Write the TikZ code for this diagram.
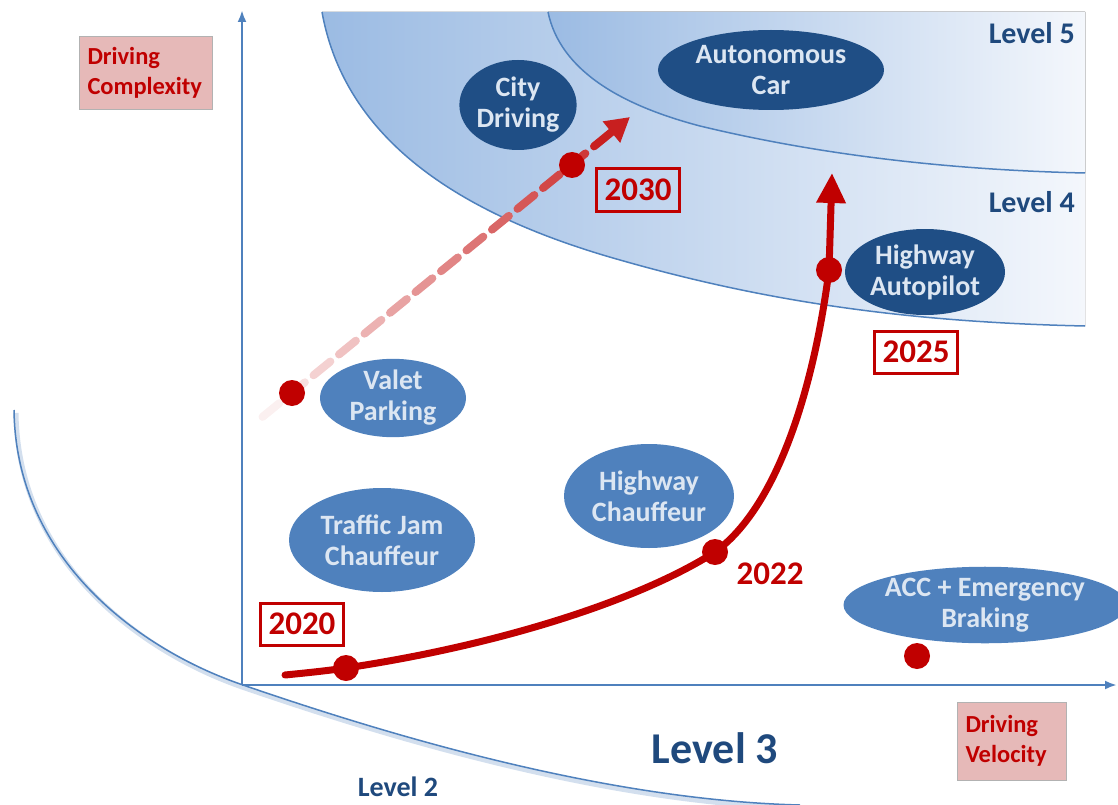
\documentclass[tikz,border=0pt]{standalone}
\usepackage{fontspec}
\setmainfont{Carlito}
\usetikzlibrary{shapes.geometric,arrows.meta,calc}

\definecolor{redc}{HTML}{C00000}
\definecolor{spotdark}{HTML}{1F4E85}
\definecolor{spotmid}{HTML}{4F81BD}
\definecolor{spottext}{HTML}{DCE6F2}
\definecolor{levelblue}{HTML}{1F497D}
\definecolor{axisblue}{HTML}{4F81BD}
\definecolor{pinkbox}{HTML}{E6B9B8}
\definecolor{bandblue}{HTML}{9BBBE3}
\definecolor{bandmid}{HTML}{D3E1F2}
\definecolor{bandwhite}{HTML}{F4F7FC}

\begin{document}
\begin{tikzpicture}[
    x=1pt, y=-1pt,
    spot/.style={
        ellipse,
        inner sep=0pt,
        align=center,
        text=spottext,
        font=\fontsize{28}{31}\selectfont\bfseries
    },
    darkspot/.style={spot, fill=spotdark},
    lightspot/.style={spot, fill=spotmid},
    reddot/.style={
        circle,
        fill=redc,
        minimum size=26pt,
        inner sep=0pt
    },
    yearbox/.style={
        draw=redc,
        line width=3pt,
        text=redc,
        font=\fontsize{33}{36}\selectfont\bfseries,
        minimum width=83pt,
        minimum height=42pt,
        inner sep=0pt
    },
    axisbox/.style={
        fill=pinkbox,
        draw=gray!60,
        line width=0.8pt,
        text=redc,
        align=left,
        font=\fontsize{24.5}{30}\selectfont\bfseries,
        inner sep=0pt
    },
    level/.style={
        text=levelblue,
        font=\fontsize{30}{32}\selectfont\bfseries,
        inner sep=0pt
    },
    axis/.style={
        line width=2.5pt,
        draw=axisblue,
        -{Latex[length=12pt,width=9pt]}
    },
    boundary/.style={draw=axisblue, line width=1.5pt},
    band/.style={left color=bandblue, middle color=bandmid, right color=bandwhite},
    trend/.style={line width=7pt, draw=redc, line cap=round},
    fadedash/.style={line width=8pt, line cap=round}
]

    \useasboundingbox (0,0) rectangle (1118,805);

    % level 4 and level 5 zones
    \fill[band] (322,12) .. controls (345,140) and (460,215) .. (620,260)
        .. controls (760,300) and (900,322) .. (1085,326) -- (1085,12) -- cycle;
    \fill[band] (548,12) .. controls (560,70) and (620,105) .. (700,126)
        .. controls (820,155) and (950,170) .. (1085,173) -- (1085,12) -- cycle;
    \draw[boundary] (322,12) .. controls (345,140) and (460,215) .. (620,260)
        .. controls (760,300) and (900,322) .. (1085,326);
    \draw[boundary] (548,12) .. controls (560,70) and (620,105) .. (700,126)
        .. controls (820,155) and (950,170) .. (1085,173);

    % level 2 curve
    \draw[line width=5pt, draw=axisblue!25, transform canvas={shift={(2pt,-3pt)}}]
        (14,410) .. controls (16,560) and (140,650) .. (243,685)
        .. controls (380,732) and (600,800) .. (800,805);
    \draw[boundary] (14,410) .. controls (16,560) and (140,650) .. (243,685)
        .. controls (380,732) and (600,800) .. (800,805);

    % axes
    \coordinate (origin) at (242,685);
    \coordinate (ytop) at (242,10);
    \coordinate (xend) at (1117,685);
    \draw[axis] (origin) -- (ytop);
    \draw[axis] (origin) -- (xend);

    \node[axisbox, minimum width=133pt, minimum height=73pt, text width=117pt] (complexity) at (146,73) {Driving\\Complexity};
    \node[axisbox, minimum width=109pt, minimum height=78pt, text width=93pt] (velocity) at (1012,741) {Driving\\Velocity};

    % levels
    \node[level, anchor=east] (level5) at (1075,33) {Level 5};
    \node[level, anchor=east] (level4) at (1075,202) {Level 4};
    \node[level, font=\fontsize{44}{46}\selectfont\bfseries] (level3) at (715,748) {Level 3};
    \node[level, font=\fontsize{28}{30}\selectfont\bfseries] (level2) at (398,787) {Level 2};

    % functions
    \node[darkspot, minimum width=94pt, minimum height=90pt] (city) at (518,105) {City\\Driving};
    \node[darkspot, minimum width=226pt, minimum height=80pt] (autonomous) at (771,70) {Autonomous\\Car};
    \node[darkspot, minimum width=160pt, minimum height=86pt] (autopilot) at (925,272) {Highway\\Autopilot};
    \node[lightspot, minimum width=146pt, minimum height=76pt] (valet) at (393,398) {Valet\\Parking};
    \node[lightspot, minimum width=186pt, minimum height=104pt] (trafficjam) at (382,540) {Traffic Jam\\Chauffeur};
    \node[lightspot, minimum width=170pt, minimum height=104pt] (chauffeur) at (649,496) {Highway\\Chauffeur};
    \node[lightspot, minimum width=246pt, minimum height=76pt] (acc) at (985,605) {ACC + Emergency\\Braking};

    % fading dashed path
    \coordinate (dashstart) at (255,423);
    \coordinate (dashend) at (630,117);
    \foreach \k in {0,...,12} {
        \pgfmathsetmacro\ta{0.02+\k*0.068}
        \pgfmathsetmacro\tb{\ta+0.045}
        \pgfmathtruncatemacro\shade{6+\k*6}
        \draw[fadedash, draw=redc!\shade!white] ($(dashstart)!\ta!(dashend)$) -- ($(dashstart)!\tb!(dashend)$);
    }
    \draw[fadedash, draw=redc!88!white, -{Triangle[width=26pt,length=24pt]}] ($(dashstart)!0.904!(dashend)$) -- (dashend);

    % trend curve
    \coordinate (trendstart) at (285,675);
    \coordinate (p2020) at (346,668);
    \coordinate (p2022) at (715,552);
    \coordinate (p2025) at (829,270);
    \coordinate (trendend) at (832,173);
    \draw[trend, -{Triangle[width=28pt,length=30pt]}] (trendstart)
        .. controls (305,673) and (325,671) .. (p2020)
        .. controls (500,645) and (640,600) .. (p2022)
        .. controls (780,505) and (815,380) .. (p2025) -- (trendend);

    \node[reddot] (dot2020) at (p2020) {};
    \node[reddot] (dot2022) at (p2022) {};
    \node[reddot] (dot2025) at (p2025) {};
    \node[reddot] (dotvalet) at (292,393) {};
    \node[reddot] (dot2030) at (572,165) {};
    \node[reddot] (dotacc) at (917,656) {};

    % years
    \node[yearbox, fill=white] (y2020) at (302,624) {2020};
    \node[yearbox] (y2030) at (638,190) {2030};
    \node[yearbox, fill=white] (y2025) at (916,352) {2025};
    \node[text=redc, font=\fontsize{33}{36}\selectfont\bfseries] (y2022) at (770,574) {2022};

\end{tikzpicture}
\end{document}
